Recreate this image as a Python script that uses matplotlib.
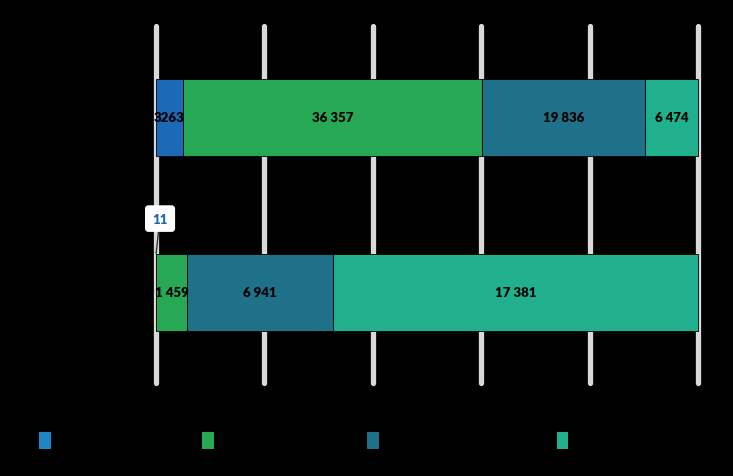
import matplotlib
matplotlib.use("Agg")
import matplotlib.pyplot as plt
from matplotlib.patches import Patch
import numpy as np

plt.rcParams['font.family'] = ['Lato', 'DejaVu Sans']

# -------------------------
# Data
# -------------------------
categories = ["A", "B"]              # top row, bottom row (labels drawn black on black)
series_names = ["S1", "S2", "S3", "S4"]
row_top = [3263, 36357, 19836, 6474]
row_bottom = [11, 1459, 6941, 17381]
value_labels_top = ["3263", "36 357", "19 836", "6 474"]
value_labels_bottom = ["11", "1 459", "6 941", "17 381"]
ticks = [0, 20, 40, 60, 80, 100]
tick_labels = ["0%", "20%", "40%", "60%", "80%", "100%"]

colors = ["#1a6ab8", "#27a855", "#1f7189", "#20b08e"]
legend_colors = ["#1e85c6", "#27a855", "#1f7189", "#20b08e"]

fig = plt.figure(figsize=(7.33, 4.77), dpi=100, facecolor="black")
ax = fig.add_axes([0.2128, 0.195, 0.7395, 0.748], facecolor="black")

# gridlines
ax.vlines(ticks, -0.52, 1.52, color="#d9d9d9", linewidth=3.8, zorder=0,
          capstyle="round", clip_on=False)

rows = [(1, row_top, value_labels_top), (0, row_bottom, value_labels_bottom)]
for y, vals, labs in rows:
    vals = np.array(vals, dtype=float)
    pct = vals / vals.sum() * 100
    left = np.concatenate([[0], np.cumsum(pct)[:-1]])
    for i in range(len(vals)):
        ax.barh(y, pct[i], left=left[i], height=0.44, color=colors[i],
                edgecolor="black", linewidth=0.6, zorder=2, clip_on=False)
        if vals[i] > 100:
            ax.text(left[i] + pct[i] / 2, y, labs[i], ha="center", va="center",
                    fontsize=9.5, fontweight="heavy", color="black", zorder=3)

# callout for the tiny segment
tiny = row_bottom[0] / sum(row_bottom) * 100
ax.annotate(value_labels_bottom[0], xy=(tiny / 2, 0.22), xytext=(0.75, 0.42),
            ha="center", va="center", fontsize=9.5, fontweight="heavy",
            color="#1a6ab8", zorder=4,
            bbox=dict(boxstyle="round,pad=0.5,rounding_size=0.2",
                      fc="white", ec="white"),
            arrowprops=dict(arrowstyle="-", color="#333333", lw=1.0,
                            shrinkA=0, shrinkB=0))

ax.set_xlim(0, 100)
ax.set_ylim(-0.52, 1.52)
ax.set_xticks(ticks)
ax.set_xticklabels(tick_labels, color="black")
ax.set_yticks([1, 0])
ax.set_yticklabels(categories, color="black")
ax.tick_params(length=0)
for s in ax.spines.values():
    s.set_visible(False)

# legend: one entry per position
legend_x = [0.038, 0.260, 0.485, 0.744]
for i, name in enumerate(series_names):
    h = Patch(facecolor=legend_colors[i], edgecolor="none")
    lg = fig.legend([h], [name], loc="center left",
                    bbox_to_anchor=(legend_x[i], 0.075), frameon=False,
                    handlelength=0.95, handleheight=1.7, fontsize=9,
                    labelcolor="black")

fig.savefig("out.png", dpi=100, facecolor="black")
